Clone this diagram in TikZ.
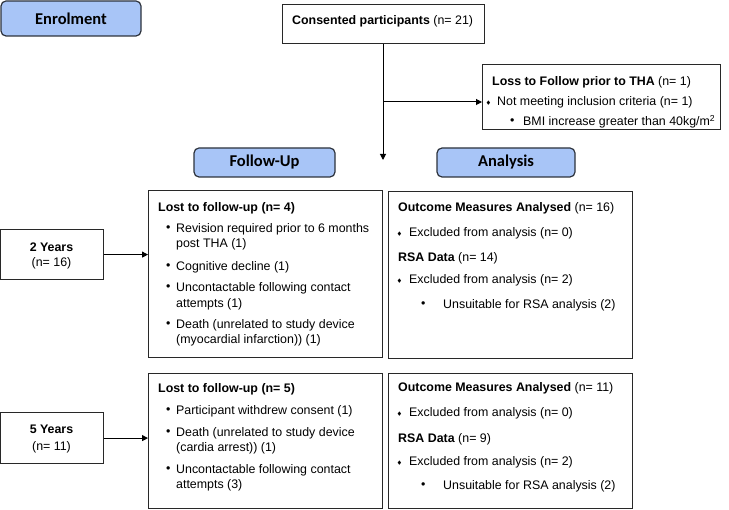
\documentclass[tikz,border=0pt]{standalone}
\usepackage{amssymb}
\usepackage{fontspec}
\setmainfont{Liberation Sans}
\newfontfamily\headfont{Carlito}
\usetikzlibrary{arrows.meta}
\definecolor{headblue}{RGB}{168,197,247}
\definecolor{headline}{RGB}{45,50,60}
\definecolor{boxline}{RGB}{40,40,40}
\tikzset{
  headbox/.style={draw=headline, line width=1.2pt, fill=headblue, rounded corners=5pt, inner sep=0pt},
  plainbox/.style={draw=boxline, line width=1.2pt, fill=white, inner sep=0pt},
  txt/.style={anchor=west, inner sep=0pt, font=\fontsize{12.4}{15}\selectfont},
  ctxt/.style={anchor=center, inner sep=0pt, font=\fontsize{12.4}{15}\selectfont},
  htxt/.style={anchor=center, inner sep=0pt, font=\headfont\bfseries\fontsize{16.5}{18}\selectfont},
  arr/.style={-{Triangle[length=6pt,width=6pt]}, line width=1pt, black},
}
\newcommand{\dbul}{{\tiny$\blacklozenge$}}
\begin{document}
\begin{tikzpicture}[x=1pt,y=-1pt]
\useasboundingbox (0,0) rectangle (729,510);
% heading boxes
\draw[headbox] (1,1) rectangle (141,36);
\node[htxt] (enrol) at (71,18.5) {Enrolment};
\draw[headbox] (194,148) rectangle (335,177);
\node[htxt] (fu) at (264.5,162.5) {Follow-Up};
\draw[headbox] (437,148) rectangle (575,177);
\node[htxt] (an) at (506,162.5) {Analysis};
% consented
\node[plainbox, minimum width=202pt, minimum height=39pt, anchor=north west] (cons) at (282,4) {};
\node[txt] (const) at (292,21) {\textbf{Consented participants} (n= 21)};
% loss box
\node[plainbox, minimum width=238pt, minimum height=65pt, anchor=north west] (loss) at (482,64) {};
\node[txt] (l1) at (492,82) {\textbf{Loss to Follow prior to THA} (n= 1)};
\node[txt] (l2b) at (486,103) {\dbul};
\node[txt] (l2) at (497,102) {Not meeting inclusion criteria (n= 1)};
\node[txt] (l3b) at (510,122) {•};
\node[txt] (l3) at (523,122) {BMI increase greater than 40kg/m\textsuperscript{2}};
% arrows from consented
\coordinate (vend) at (383,160);
\coordinate (hstart) at (383,102);
\draw[arr] (cons.south -| vend) -- (vend);
\draw[arr] (hstart) -- (loss.west |- hstart);
% year boxes
\node[plainbox, minimum width=103pt, minimum height=50pt, anchor=north west] (y2) at (0,229) {};
\node[ctxt] (y2a) at (51.5,247) {\textbf{2 Years}};
\node[ctxt] (y2b) at (51.5,263) {(n= 16)};
\node[plainbox, minimum width=103pt, minimum height=51pt, anchor=north west] (y5) at (0,412) {};
\node[ctxt] (y5a) at (51.5,429) {\textbf{5 Years}};
\node[ctxt] (y5b) at (51.5,447) {(n= 11)};
% lost boxes
\node[plainbox, minimum width=234pt, minimum height=167pt, anchor=north west] (lost1) at (148,190) {};
\node[plainbox, minimum width=234pt, minimum height=135pt, anchor=north west] (lost2) at (148,373) {};
% analysis boxes
\node[plainbox, minimum width=244pt, minimum height=167pt, anchor=north west] (an1) at (388,191) {};
\node[plainbox, minimum width=244pt, minimum height=135pt, anchor=north west] (an2) at (388,373) {};
% arrows from years
\draw[arr] (y2.east) -- (lost1.west |- y2.east);
\draw[arr] (y5.east) -- (lost2.west |- y5.east);
% lost1 text
\node[txt] (a1) at (158,208) {\textbf{Lost to follow-up (n= 4)}};
\node[txt] (a2b) at (166,229) {•};
\node[txt] (a2) at (176,229) {Revision required prior to 6 months};
\node[txt] (a2c) at (176,244) {post THA (1)};
\node[txt] (a3b) at (166,267) {•};
\node[txt] (a3) at (176,267) {Cognitive decline (1)};
\node[txt] (a4b) at (166,288) {•};
\node[txt] (a4) at (176,288) {Uncontactable following contact};
\node[txt] (a4c) at (176,304) {attempts (1)};
\node[txt] (a5b) at (166,325) {•};
\node[txt] (a5) at (176,325) {Death (unrelated to study device};
\node[txt] (a5c) at (176,340) {(myocardial infarction)) (1)};
% lost2 text
\node[txt] (b1) at (158,389) {\textbf{Lost to follow-up (n= 5)}};
\node[txt] (b2b) at (166,411) {•};
\node[txt] (b2) at (176,411) {Participant withdrew consent (1)};
\node[txt] (b3b) at (166,433) {•};
\node[txt] (b3) at (176,433) {Death (unrelated to study device};
\node[txt] (b3c) at (176,448) {(cardia arrest)) (1)};
\node[txt] (b4b) at (166,470) {•};
\node[txt] (b4) at (176,470) {Uncontactable following contact};
\node[txt] (b4c) at (176,485) {attempts (3)};
% analysis1 text
\node[txt] (c1) at (398,208) {\textbf{Outcome Measures Analysed} (n= 16)};
\node[txt] (c2b) at (397,234) {\dbul};
\node[txt] (c2) at (409,233) {Excluded from analysis (n= 0)};
\node[txt] (c3) at (398,258) {\textbf{RSA Data} (n= 14)};
\node[txt] (c4b) at (397,281) {\dbul};
\node[txt] (c4) at (409,280) {Excluded from analysis (n= 2)};
\node[txt] (c5b) at (421,305) {•};
\node[txt] (c5) at (443,305) {Unsuitable for RSA analysis (2)};
% analysis2 text
\node[txt] (d1) at (398,388) {\textbf{Outcome Measures Analysed} (n= 11)};
\node[txt] (d2b) at (397,414) {\dbul};
\node[txt] (d2) at (409,413) {Excluded from analysis (n= 0)};
\node[txt] (d3) at (398,439) {\textbf{RSA Data} (n= 9)};
\node[txt] (d4b) at (397,463) {\dbul};
\node[txt] (d4) at (409,462) {Excluded from analysis (n= 2)};
\node[txt] (d5b) at (421,486) {•};
\node[txt] (d5) at (443,486) {Unsuitable for RSA analysis (2)};
\end{tikzpicture}
\end{document}
